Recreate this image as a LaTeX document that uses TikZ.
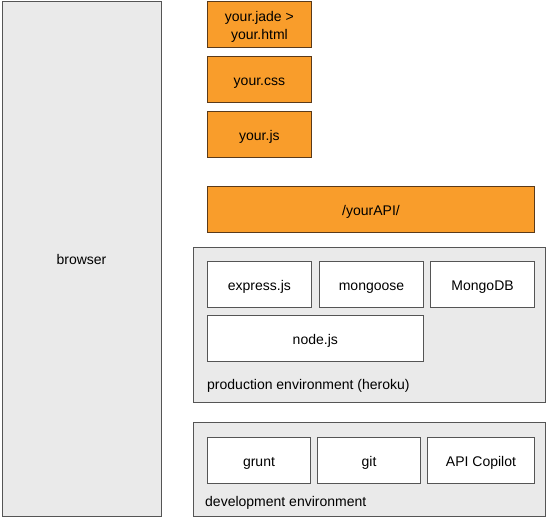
\documentclass[tikz,border=0pt]{standalone}
\usepackage{fontspec}
\setmainfont{Liberation Sans}
\definecolor{orangefill}{HTML}{F99D2B}
\definecolor{orangeedge}{HTML}{5A3A1A}
\definecolor{envfill}{HTML}{EAEAEA}
\definecolor{edge}{HTML}{555555}
\begin{document}
\begin{tikzpicture}[x=1pt,y=-1pt,
  every node/.style={font=\fontsize{14}{18}\selectfont, inner sep=0pt, anchor=base},
  orangebox/.style={draw=orangeedge, fill=orangefill, line width=0.9pt},
  envbox/.style={draw=edge, fill=envfill, line width=0.9pt},
  whitebox/.style={draw=edge, fill=white, line width=0.9pt},
  lbl/.style={anchor=base west, text=black}]
\useasboundingbox (0,0) rectangle (546,518);
% browser
\draw[envbox] (2.5,1.5) rectangle (161.3,516.7);
\node (browser) at (81.5,265) {browser};
% orange boxes
\draw[orangebox] (207.3,1.5) rectangle (311.5,47.3);
\node (jade1) at (259.4,22) {your.jade >};
\node (jade2) at (259.4,39.5) {your.html};
\draw[orangebox] (207.3,56.7) rectangle (311.5,102.3);
\node (css) at (259.4,86) {your.css};
\draw[orangebox] (207.3,111.7) rectangle (311.5,157.3);
\node (js) at (259.4,140.5) {your.js};
\draw[orangebox] (207.3,186.5) rectangle (534.5,232.5);
\node (api) at (371,215.5) {/yourAPI/};
% production environment
\draw[envbox] (193.3,247.7) rectangle (545.3,402.7);
\draw[whitebox] (207.3,261.5) rectangle (311.5,307.3);
\node (express) at (259.4,290.5) {express.js};
\draw[whitebox] (319.7,261.5) rectangle (423.3,307.3);
\node (mongoose) at (371.5,290.5) {mongoose};
\draw[whitebox] (430.7,261.5) rectangle (534.5,307.3);
\node (mongodb) at (482.6,290.5) {MongoDB};
\draw[whitebox] (207.3,315.5) rectangle (423.3,361.3);
\node (nodejs) at (315.3,344.5) {node.js};
\node[lbl] (prodlbl) at (207,389) {production environment (heroku)};
% development environment
\draw[envbox] (193.3,422.3) rectangle (545.3,516.7);
\draw[whitebox] (207.3,437.3) rectangle (310.7,483.3);
\node (grunt) at (259,466.5) {grunt};
\draw[whitebox] (317.3,437.3) rectangle (420.7,483.3);
\node (git) at (369,466.5) {git};
\draw[whitebox] (427.3,437.3) rectangle (534.5,483.3);
\node (copilot) at (481,466.5) {API Copilot};
\node[lbl] (devlbl) at (205,506) {development environment};
\end{tikzpicture}
\end{document}
